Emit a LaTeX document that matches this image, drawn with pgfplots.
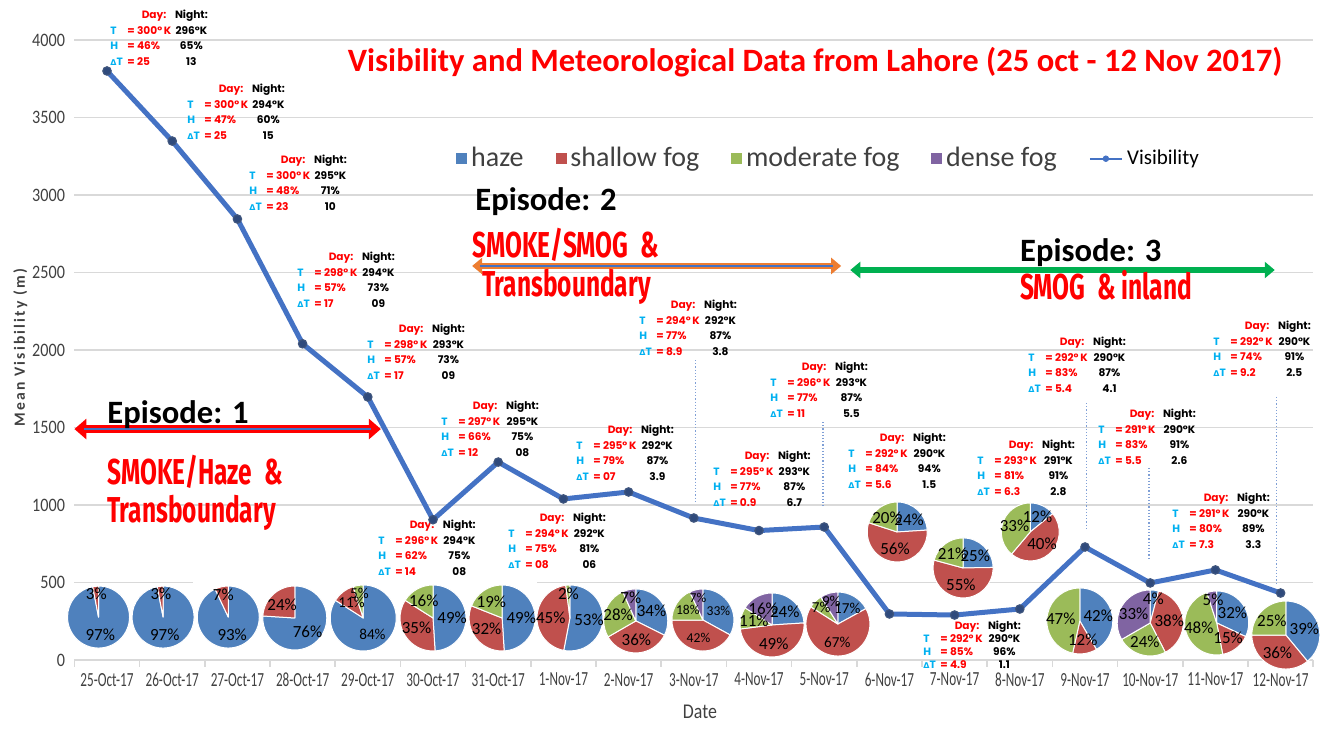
\documentclass[border=0pt]{standalone}
\usepackage{fontspec}
\setmainfont{Carlito}
\newfontfamily\annfont{Poppins}
\newfontfamily\epfont{Fira Sans}
\newfontfamily\dvfont{DejaVu Sans}
\newfontfamily\ylabfont[LetterSpace=14]{Carlito}
\usepackage{graphicx}
\usepackage{pgfplots}
\usepackage{pgfplotstable}
\pgfplotsset{compat=1.18}
\usetikzlibrary{arrows.meta}

\definecolor{hazec}{HTML}{4F81BD}
\definecolor{shallowc}{HTML}{C0504D}
\definecolor{moderatec}{HTML}{9BBB59}
\definecolor{densec}{HTML}{8064A2}
\definecolor{visblue}{HTML}{4472C4}
\definecolor{markc}{HTML}{2F4A7C}
\definecolor{dayred}{HTML}{FF0000}
\definecolor{tcyan}{HTML}{00B0F0}
\definecolor{gridc}{HTML}{D9D9D9}
\definecolor{txtgray}{HTML}{404040}
\definecolor{orangec}{HTML}{ED7D31}
\definecolor{greenc}{HTML}{00B050}
\definecolor{dotc}{HTML}{7F9FD6}

\pgfplotstableread{
idx vis
0 3800
1 3348
2 2845
3 2040
4 1697
5 905
6 1277
7 1039
8 1084
9 916
10 835
11 858
12 297
13 290
14 329
15 729
16 497
17 581
18 432
}\visdata

\newcommand{\met}[9][7.75]{%
\node[anchor=north west, inner sep=0pt, align=left, font=\fontsize{5.3}{#1}\selectfont\annfont\bfseries] at (axis cs:#2,#3) {%
\makebox[28pt][r]{\textcolor{dayred}{Day:}}\hspace{2.5pt}\makebox[20pt][c]{Night:}\\
\makebox[8.5pt][l]{\textcolor{tcyan}{T}}\makebox[22pt][l]{\textcolor{dayred}{= #4°\,K}}\makebox[20pt][c]{#5°K}\\
\makebox[8.5pt][l]{\textcolor{tcyan}{H}}\makebox[22pt][l]{\textcolor{dayred}{= #6\%}}\makebox[20pt][c]{#7\%}\\
\makebox[8.5pt][l]{\textcolor{tcyan}{{\dvfont\fontsize{4}{4}\selectfont Δ}T}}\makebox[22pt][l]{\textcolor{dayred}{= #8}}\makebox[20pt][c]{#9}};%
}
\newcommand{\eptext}[1]{\scalebox{0.68}[1]{\fontsize{18}{20}\selectfont\epfont\bfseries #1}}
\newcommand{\ephead}[1]{{\fontsize{16.3}{18}\selectfont\bfseries #1}}

\newcommand{\pieslice}[5]{%
  \ifnum#4>0
    \pgfmathsetmacro\psa{90-(#3)/\ptot*360}%
    \pgfmathsetmacro\pea{90-(#3+#4)/\ptot*360}%
    \fill[#5,draw=white,line width=0.5pt,line join=round] (#1) -- ++(\psa:#2pt) arc[start angle=\psa,end angle=\pea,radius=#2pt] -- cycle;
  \fi
}
\newcommand{\pielabel}[5]{%
  \ifnum#4>0
    \pgfmathsetmacro\pma{90-(#3+0.5*#4)/\ptot*360}%
    \ifnum#4<10 \pgfmathsetmacro\plr{0.74*#2}\else \pgfmathsetmacro\plr{0.58*#2}\fi
    \node[inner sep=0pt,font=\fontsize{#5}{#5}\selectfont] at ([shift={(\pma:\plr pt)}]#1) {#4\%};
  \fi
}
\newcommand{\pie}[7][8.5]{%
  \pgfmathsetmacro\ptot{#4+#5+#6+#7}%
  \pieslice{#2}{#3}{0}{#4}{hazec}%
  \pieslice{#2}{#3}{#4}{#5}{shallowc}%
  \pieslice{#2}{#3}{#4+#5}{#6}{moderatec}%
  \pieslice{#2}{#3}{#4+#5+#6}{#7}{densec}%
  \pielabel{#2}{#3}{0}{#4}{#1}%
  \pielabel{#2}{#3}{#4}{#5}{#1}%
  \pielabel{#2}{#3}{#4+#5}{#6}{#1}%
  \pielabel{#2}{#3}{#4+#5+#6}{#7}{#1}%
}

\begin{document}
\begin{tikzpicture}
\begin{axis}[
  scale only axis,
  width=619.4pt, height=325.5pt,
  xmin=-0.5, xmax=18.5, ymin=0, ymax=4200,
  axis x line=bottom, axis y line=left,
  x axis line style={-, draw=gridc, line width=1pt},
  y axis line style={draw=none},
  xtick={0,...,18},
  xticklabels={25-Oct-17,26-Oct-17,27-Oct-17,28-Oct-17,29-Oct-17,30-Oct-17,31-Oct-17,1-Nov-17,2-Nov-17,3-Nov-17,4-Nov-17,5-Nov-17,6-Nov-17,7-Nov-17,8-Nov-17,9-Nov-17,10-Nov-17,11-Nov-17,12-Nov-17},
  minor xtick={-0.5,0.5,...,18.5},
  major tick length=0pt, minor tick length=3.5pt,
  tick align=outside,
  minor tick style={draw=gridc, line width=0.8pt},
  ytick={0,500,...,4000},
  ymajorgrids, grid style={draw=gridc, line width=0.7pt},
  /pgf/number format/assume math mode=true,
  /pgf/number format/set thousands separator={},
  xticklabel style={font=\fontsize{10}{10}\selectfont, text=txtgray, xscale=0.66, yshift=-3pt},
  yticklabel style={font=\fontsize{9.5}{10}\selectfont, text=txtgray, xscale=0.85, xshift=-2pt},
  xlabel={Date},
  xlabel style={at={(axis description cs:0.505,-0.08)}, anchor=center, font=\fontsize{10.5}{12}\selectfont, text=txtgray, xscale=0.85},
  ylabel={Mean Visibility (m)},
  ylabel style={at={(axis description cs:-0.0436,0.48)}, anchor=center, rotate=0, font=\fontsize{7.8}{9}\selectfont\ylabfont\bfseries, text=txtgray},
  clip=false,
  legend columns=-1,
  legend cell align=left,
  legend style={at={(0.308,0.794)}, anchor=north west, draw=none, fill=none, inner sep=0pt,
    font=\fontsize{14}{15}\selectfont, text=txtgray,
    /tikz/every even column/.append style={column sep=14pt}},
]
\addlegendimage{legend image code/.code={\fill[hazec] (0pt,-2.5pt) rectangle (5pt,2.5pt);}}
\addlegendentry{haze}
\addlegendimage{legend image code/.code={\fill[shallowc] (0pt,-2.5pt) rectangle (5pt,2.5pt);}}
\addlegendentry{shallow fog}
\addlegendimage{legend image code/.code={\fill[moderatec] (0pt,-2.5pt) rectangle (5pt,2.5pt);}}
\addlegendentry{moderate fog}
\addlegendimage{legend image code/.code={\fill[densec] (0pt,-2.5pt) rectangle (5pt,2.5pt);}}
\addlegendentry{dense fog}
\addlegendimage{legend image code/.code={\draw[visblue, line width=1.2pt] (11pt,0pt) -- (27pt,0pt); \fill[visblue] (19pt,0pt) circle (1.4pt);}}
\addlegendentry[font=\fontsize{10.5}{12}\selectfont, text=black]{Visibility}

% white patch where the pie images hide the 500 gridline
\fill[white] (axis cs:1.32,470) rectangle (axis cs:6.6,530);

% dotted guide lines
\addplot[forget plot, densely dotted, dotc, line width=0.6pt] coordinates {(9.02,1935) (9.02,1013)};
\addplot[forget plot, densely dotted, dotc, line width=0.6pt] coordinates {(10.98,1535) (10.98,981)};
\addplot[forget plot, densely dotted, dotc, line width=0.6pt] coordinates {(15.02,1658) (15.02,839)};
\addplot[forget plot, densely dotted, dotc, line width=0.6pt] coordinates {(15.98,1239) (15.98,645)};
\addplot[forget plot, densely dotted, dotc, line width=0.6pt] coordinates {(17.94,1697) (17.94,484)};

% visibility line
\addplot[forget plot, visblue, line width=2.5pt, mark=*, mark size=2.1pt,
  mark options={fill=markc, draw=markc!80!gray, line width=0.6pt}] table[x=idx,y=vis]{\visdata};

% title
\node[anchor=base, font=\fontsize{16.3}{17}\selectfont\bfseries, text=dayred] at (axis cs:10.86,3794)
  {Visibility and Meteorological Data from Lahore (25 oct - 12 Nov 2017)};

% episodes
\draw[dayred, line width=3.6pt, {Triangle[length=6pt,width=10pt]}-{Triangle[length=6pt,width=10pt]}] (axis cs:-0.5,1490) -- (axis cs:4.2,1490);
\draw[visblue, line width=1.2pt] (axis cs:-0.35,1490) -- (axis cs:4.05,1490);
\node[anchor=base west, inner sep=0pt] at (axis cs:0,1523) {\ephead{Episode: 1}};
\node[anchor=base west, inner sep=0pt, text=dayred] at (axis cs:0,1133) {\eptext{SMOKE/Haze\ \ \&}};
\node[anchor=base west, inner sep=0pt, text=dayred] at (axis cs:0,890) {\eptext{Transboundary}};

\draw[orangec, line width=3pt, {Triangle[length=5pt,width=8pt]}-{Triangle[length=5pt,width=8pt]}] (axis cs:5.6,2542) -- (axis cs:11.26,2542);
\draw[visblue, line width=1.1pt] (axis cs:5.72,2542) -- (axis cs:11.14,2542);
\node[anchor=base west, inner sep=0pt] at (axis cs:5.644,2903) {\ephead{Episode: 2}};
\node[anchor=base west, inner sep=0pt, text=dayred] at (axis cs:5.598,2594) {\eptext{SMOKE/SMOG\ \ \&}};
\node[anchor=base west, inner sep=0pt, text=dayred] at (axis cs:5.75,2348) {\eptext{Transboundary}};

\draw[greenc, line width=2.6pt, {Triangle[length=5pt,width=8pt]}-{Triangle[length=5pt,width=8pt]}] (axis cs:11.4,2516) -- (axis cs:17.91,2516);
\node[anchor=base west, inner sep=0pt] at (axis cs:14.0,2574) {\ephead{Episode: 3}};
\node[anchor=base west, inner sep=0pt, text=dayred] at (axis cs:14.0,2323) {\eptext{SMOG\ \ \& inland}};

% meteorological annotations
\met{0.046}{4194}{300}{296}{46}{65}{25}{13}
\met{1.227}{3716}{300}{294}{47}{60}{25}{15}
\met{2.178}{3258}{300}{295}{48}{71}{23}{10}
\met{2.914}{2632}{298}{294}{57}{73}{17}{09}
\met{3.988}{2168}{298}{293}{57}{73}{17}{09}
\met{4.156}{903}{296}{294}{62}{75}{14}{08}
\met{5.123}{1671}{297}{295}{66}{75}{12}{08}
\met{6.150}{948}{294}{292}{75}{81}{08}{06}
\met{7.193}{1516}{295}{292}{79}{87}{07}{3.9}
\met{8.160}{2323}{294}{292}{77}{87}{8.9}{3.8}
\met{9.294}{1348}{295}{293}{77}{87}{0.9}{6.7}
\met{10.169}{1923}{296}{293}{77}{87}{11}{5.5}
\met{11.365}{1465}{292}{290}{84}{94}{5.6}{1.5}
\met[6.5]{12.515}{256}{292}{290}{85}{96}{4.9}{1.1}
\met{13.344}{1419}{293}{291}{81}{91}{6.3}{2.8}
\met{14.126}{2084}{292}{290}{83}{87}{5.4}{4.1}
\met{15.199}{1619}{291}{290}{83}{91}{5.5}{2.6}
\met{16.334}{1077}{291}{290}{80}{89}{7.3}{3.3}
\met{16.963}{2187}{292}{290}{74}{91}{9.2}{2.5}

% pie centres
\coordinate (p1) at (axis cs:-0.13,277);
\coordinate (p2) at (axis cs:0.86,277);
\coordinate (p3) at (axis cs:1.86,277);
\coordinate (p4) at (axis cs:2.88,271);
\coordinate (p5) at (axis cs:3.93,271);
\coordinate (p6) at (axis cs:5.0,271);
\coordinate (p7) at (axis cs:6.06,271);
\coordinate (p8) at (axis cs:7.10,271);
\coordinate (p9) at (axis cs:8.11,252);
\coordinate (p10) at (axis cs:9.14,258);
\coordinate (p11) at (axis cs:10.2,226);
\coordinate (p12) at (axis cs:11.21,232);
\coordinate (p13) at (axis cs:12.12,826);
\coordinate (p14) at (axis cs:13.13,594);
\coordinate (p15) at (axis cs:14.16,826);
\coordinate (p16) at (axis cs:14.92,252);
\coordinate (p17) at (axis cs:16.0,239);
\coordinate (p18) at (axis cs:17.02,239);
\coordinate (p19) at (axis cs:18.08,161);
\coordinate (BL) at (rel axis cs:0,0);
\end{axis}

\pie{p1}{15.5}{97}{3}{0}{0}
\pie{p2}{15.5}{97}{3}{0}{0}
\pie{p3}{15.5}{93}{7}{0}{0}
\pie{p4}{16}{76}{24}{0}{0}
\pie[7.6]{p5}{16.5}{84}{11}{5}{0}
\pie{p6}{16.5}{49}{35}{16}{0}
\pie{p7}{16.5}{49}{32}{19}{0}
\pie{p8}{16.5}{53}{45}{2}{0}
\pie{p9}{16}{34}{36}{28}{7}
\pie[6.8]{p10}{15.5}{33}{42}{18}{7}
\pie{p11}{16}{24}{49}{11}{16}
\pie[7.6]{p12}{16}{17}{67}{7}{9}
\pie{p13}{15}{24}{56}{20}{0}
\pie{p14}{15}{25}{55}{21}{0}
\pie{p15}{14.5}{12}{40}{33}{0}
\pie{p16}{16.5}{42}{12}{47}{0}
\pie{p17}{16.5}{4}{38}{24}{33}
\pie{p18}{16}{32}{15}{48}{5}
\pie{p19}{17}{39}{36}{25}{0}

\pgfresetboundingbox
\path (BL) ++(-37.2pt,-35.5pt) rectangle ++(662.5pt,365.5pt);
\end{tikzpicture}
\end{document}
